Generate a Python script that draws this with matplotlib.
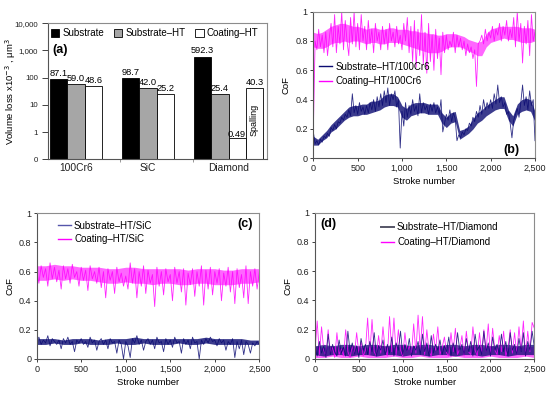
import numpy as np
import matplotlib
matplotlib.use("Agg")
import matplotlib.pyplot as plt
from matplotlib.ticker import FixedLocator, FixedFormatter
from matplotlib.patches import Patch

plt.rcParams["font.family"] = ["Liberation Sans", "DejaVu Sans"]

# ---- panel (a): volume loss ----
materials = ["100Cr6", "SiC", "Diamond"]
series_names = ["Substrate", "Substrate–HT", "Coating–HT"]
vol_substrate = [87.1, 98.7, 592.3]
vol_substrate_ht = [59.0, 42.0, 25.4]
vol_coating_ht = [48.6, 25.2, 0.49]
spalling_value = 40.3
vol_ticks = [0.1, 1, 10, 100, 1000, 10000]
vol_ticklabels = ["0", "1", "10", "100", "1,000", "10,000"]

# ---- panels (b)-(d): CoF vs stroke number ----
# raw traces (spikes)
strokes_b = np.arange(0, 2501, 20)
cof_coat_100cr6 = [
    0.18, 0.80, 0.74, 0.88, 0.76, 0.84, 0.72, 0.86, 0.70, 0.82,
    0.92, 0.76, 0.98, 0.72, 0.90, 0.78, 1.00, 0.74, 0.94, 0.80,
    0.70, 0.96, 0.78, 1.00, 0.76, 0.92, 0.74, 0.98, 0.80, 0.90,
    0.74, 0.94, 0.78, 0.88, 0.72, 0.92, 0.80, 0.86, 0.74, 0.90,
    0.78, 0.88, 0.74, 0.92, 0.80, 0.86, 0.76, 0.90, 0.78, 0.84,
    0.74, 0.92, 0.80, 0.96, 0.72, 0.90, 0.66, 0.94, 0.62, 0.88,
    0.70, 0.98, 0.64, 0.86, 0.58, 0.92, 0.66, 0.84, 0.60, 0.88,
    0.68, 0.82, 0.57, 0.86, 0.72, 0.84, 0.74, 0.80, 0.76, 0.86,
    0.72, 0.84, 0.76, 0.82, 0.74, 0.80, 0.70, 0.78, 0.72, 0.76,
    0.68, 0.74, 0.49, 0.78, 0.80, 0.84, 0.78, 0.88, 0.80, 0.86,
    0.82, 0.90, 0.80, 0.88, 0.84, 0.92, 0.80, 0.90, 0.84, 0.94,
    0.80, 0.88, 0.82, 0.96, 0.76, 1.00, 0.80, 0.92, 0.65, 0.90,
    0.78, 0.94, 0.70, 0.98, 0.80, 0.86]
cof_sub_100cr6 = [
    0.18, 0.10, 0.12, 0.09, 0.13, 0.11, 0.15, 0.14, 0.17, 0.15,
    0.21, 0.19, 0.23, 0.20, 0.25, 0.24, 0.28, 0.26, 0.30, 0.28,
    0.33, 0.29, 0.44, 0.31, 0.36, 0.30, 0.38, 0.32, 0.35, 0.30,
    0.36, 0.31, 0.38, 0.33, 0.40, 0.32, 0.42, 0.35, 0.44, 0.36,
    0.46, 0.38, 0.48, 0.36, 0.44, 0.40, 0.46, 0.35, 0.40, 0.07,
    0.32, 0.22, 0.38, 0.28, 0.36, 0.30, 0.40, 0.32, 0.36, 0.29,
    0.44, 0.31, 0.38, 0.33, 0.36, 0.30, 0.37, 0.32, 0.38, 0.31,
    0.35, 0.30, 0.40, 0.18, 0.24, 0.30, 0.26, 0.33, 0.25, 0.31,
    0.27, 0.12, 0.16, 0.14, 0.18, 0.16, 0.20, 0.19, 0.24, 0.22,
    0.28, 0.25, 0.32, 0.28, 0.36, 0.30, 0.40, 0.33, 0.38, 0.34,
    0.40, 0.34, 0.44, 0.37, 0.50, 0.38, 0.42, 0.35, 0.38, 0.30,
    0.32, 0.24, 0.14, 0.26, 0.30, 0.34, 0.28, 0.38, 0.50, 0.36,
    0.42, 0.33, 0.46, 0.36, 0.40, 0.12]

# dense core of each (b) trace, low / high edge every 50 strokes
strokes_b_band = np.arange(0, 2501, 50)
coat_100cr6_lo = [
    0.76, 0.75, 0.75, 0.76, 0.78, 0.79, 0.79, 0.80, 0.79, 0.80,
    0.80, 0.79, 0.78, 0.79, 0.79, 0.78, 0.78, 0.79, 0.79, 0.79,
    0.78, 0.77, 0.76, 0.75, 0.74, 0.73, 0.72, 0.72, 0.72, 0.73,
    0.75, 0.76, 0.76, 0.76, 0.75, 0.73, 0.72, 0.70, 0.70, 0.76,
    0.79, 0.80, 0.81, 0.82, 0.81, 0.81, 0.80, 0.79, 0.79, 0.79,
    0.80]
coat_100cr6_hi = [
    0.86, 0.85, 0.86, 0.88, 0.90, 0.91, 0.92, 0.92, 0.91, 0.90,
    0.90, 0.89, 0.88, 0.89, 0.89, 0.88, 0.88, 0.89, 0.89, 0.88,
    0.88, 0.88, 0.87, 0.87, 0.86, 0.86, 0.85, 0.85, 0.84, 0.84,
    0.85, 0.85, 0.85, 0.84, 0.83, 0.81, 0.80, 0.79, 0.80, 0.85,
    0.88, 0.89, 0.90, 0.90, 0.90, 0.90, 0.90, 0.89, 0.89, 0.89,
    0.88]
sub_100cr6_lo = [
    0.09, 0.09, 0.12, 0.14, 0.18, 0.20, 0.23, 0.26, 0.28, 0.29,
    0.29, 0.30, 0.30, 0.31, 0.32, 0.33, 0.35, 0.36, 0.36, 0.35,
    0.28, 0.26, 0.29, 0.30, 0.31, 0.31, 0.30, 0.30, 0.30, 0.24,
    0.21, 0.24, 0.25, 0.13, 0.15, 0.17, 0.20, 0.24, 0.26, 0.29,
    0.31, 0.33, 0.34, 0.34, 0.26, 0.22, 0.30, 0.32, 0.33, 0.32,
    0.25]
sub_100cr6_hi = [
    0.15, 0.13, 0.16, 0.19, 0.23, 0.26, 0.29, 0.32, 0.35, 0.36,
    0.36, 0.37, 0.37, 0.39, 0.39, 0.40, 0.43, 0.44, 0.44, 0.42,
    0.36, 0.34, 0.37, 0.38, 0.38, 0.38, 0.37, 0.37, 0.37, 0.31,
    0.28, 0.31, 0.32, 0.19, 0.20, 0.22, 0.27, 0.31, 0.33, 0.36,
    0.38, 0.40, 0.42, 0.42, 0.33, 0.29, 0.37, 0.40, 0.41, 0.40,
    0.32]

strokes_cd = np.arange(0, 2501, 25)
cof_coat_sic = [
    0.60, 0.52, 0.64, 0.56, 0.62, 0.50, 0.66, 0.55, 0.63, 0.53,
    0.61, 0.48, 0.64, 0.55, 0.62, 0.52, 0.65, 0.56, 0.60, 0.50,
    0.63, 0.54, 0.61, 0.47, 0.64, 0.55, 0.60, 0.52, 0.63, 0.49,
    0.60, 0.42, 0.62, 0.54, 0.60, 0.45, 0.63, 0.53, 0.59, 0.50,
    0.57, 0.48, 0.66, 0.52, 0.62, 0.42, 0.60, 0.50, 0.64, 0.45,
    0.61, 0.52, 0.58, 0.36, 0.63, 0.50, 0.60, 0.44, 0.62, 0.53,
    0.58, 0.40, 0.63, 0.52, 0.60, 0.46, 0.62, 0.37, 0.59, 0.51,
    0.62, 0.43, 0.60, 0.50, 0.64, 0.37, 0.61, 0.48, 0.63, 0.44,
    0.60, 0.52, 0.62, 0.40, 0.59, 0.50, 0.63, 0.46, 0.60, 0.38,
    0.62, 0.49, 0.58, 0.42, 0.64, 0.38, 0.60, 0.50, 0.62, 0.48,
    0.60]
cof_sub_sic = [
    0.12, 0.15, 0.10, 0.13, 0.11, 0.16, 0.09, 0.14, 0.12, 0.10,
    0.13, 0.07, 0.14, 0.11, 0.15, 0.10, 0.12, 0.05, 0.13, 0.11,
    0.14, 0.10, 0.12, 0.08, 0.15, 0.11, 0.13, 0.06, 0.12, 0.14,
    0.10, 0.13, 0.07, 0.14, 0.11, 0.12, 0.04, 0.13, 0.10, 0.00,
    0.12, 0.09, 0.01, 0.14, 0.11, 0.16, 0.10, 0.13, 0.06, 0.12,
    0.14, 0.10, 0.13, 0.07, 0.15, 0.11, 0.12, 0.05, 0.14, 0.10,
    0.13, 0.08, 0.15, 0.11, 0.12, 0.04, 0.14, 0.10, 0.13, 0.07,
    0.15, 0.11, 0.12, 0.00, 0.13, 0.10, 0.14, 0.11, 0.15, 0.12,
    0.13, 0.09, 0.14, 0.11, 0.13, 0.06, 0.12, 0.10, 0.14, 0.01,
    0.12, 0.07, 0.13, 0.03, 0.12, 0.10, 0.04, 0.11, 0.09, 0.12,
    0.10]
cof_coat_diamond = [
    0.05, 0.26, 0.03, 0.22, 0.06, 0.02, 0.20, 0.04, 0.08, 0.01,
    0.18, 0.03, 0.07, 0.02, 0.20, 0.05, 0.01, 0.09, 0.03, 0.18,
    0.04, 0.12, 0.02, 0.06, 0.28, 0.03, 0.27, 0.05, 0.02, 0.16,
    0.04, 0.22, 0.06, 0.02, 0.29, 0.05, 0.28, 0.03, 0.20, 0.06,
    0.02, 0.18, 0.05, 0.09, 0.03, 0.24, 0.04, 0.30, 0.06, 0.29,
    0.03, 0.20, 0.05, 0.02, 0.17, 0.06, 0.22, 0.03, 0.08, 0.15,
    0.04, 0.02, 0.18, 0.05, 0.21, 0.03, 0.07, 0.16, 0.02, 0.19,
    0.05, 0.03, 0.22, 0.06, 0.02, 0.18, 0.04, 0.20, 0.05, 0.24,
    0.02, 0.21, 0.06, 0.03, 0.16, 0.05, 0.19, 0.02, 0.07, 0.20,
    0.04, 0.18, 0.03, 0.22, 0.06, 0.26, 0.02, 0.19, 0.05, 0.25,
    0.21]
cof_sub_diamond = [
    0.08, 0.02, 0.12, 0.04, 0.09, 0.01, 0.17, 0.03, 0.10, 0.05,
    0.02, 0.13, 0.04, 0.08, 0.02, 0.19, 0.05, 0.11, 0.03, 0.09,
    0.01, 0.14, 0.06, 0.10, 0.03, 0.12, 0.05, 0.18, 0.02, 0.09,
    0.06, 0.13, 0.03, 0.10, 0.04, 0.15, 0.02, 0.11, 0.06, 0.19,
    0.03, 0.10, 0.05, 0.14, 0.02, 0.09, 0.06, 0.12, 0.03, 0.17,
    0.05, 0.11, 0.02, 0.16, 0.04, 0.10, 0.06, 0.13, 0.03, 0.09,
    0.05, 0.15, 0.02, 0.11, 0.04, 0.18, 0.06, 0.10, 0.03, 0.14,
    0.05, 0.12, 0.02, 0.17, 0.06, 0.09, 0.03, 0.19, 0.05, 0.11,
    0.02, 0.15, 0.06, 0.10, 0.03, 0.17, 0.05, 0.12, 0.02, 0.18,
    0.06, 0.10, 0.03, 0.14, 0.05, 0.18, 0.02, 0.12, 0.06, 0.19,
    0.08]

# dense cores for (c) and (d), every 100 strokes
strokes_cd_band = np.arange(0, 2501, 100)
coat_sic_lo = [0.54, 0.54, 0.55, 0.54, 0.55, 0.54, 0.54, 0.53, 0.52, 0.52, 0.53, 0.52, 0.52,
               0.51, 0.52, 0.52, 0.51, 0.51, 0.52, 0.52, 0.51, 0.51, 0.51, 0.52, 0.52, 0.53]
coat_sic_hi = [0.64, 0.64, 0.65, 0.64, 0.64, 0.63, 0.63, 0.63, 0.62, 0.62, 0.63, 0.63, 0.62,
               0.62, 0.62, 0.62, 0.62, 0.61, 0.62, 0.62, 0.62, 0.61, 0.61, 0.62, 0.62, 0.62]
sub_sic_lo = [0.10, 0.10, 0.11, 0.10, 0.10, 0.11, 0.10, 0.10, 0.10, 0.11, 0.10, 0.10, 0.11,
              0.10, 0.10, 0.10, 0.11, 0.10, 0.10, 0.11, 0.10, 0.10, 0.10, 0.10, 0.10, 0.10]
sub_sic_hi = [0.14, 0.14, 0.14, 0.13, 0.14, 0.14, 0.14, 0.13, 0.14, 0.14, 0.14, 0.15, 0.14,
              0.14, 0.14, 0.14, 0.14, 0.14, 0.14, 0.15, 0.14, 0.14, 0.14, 0.14, 0.13, 0.13]
coat_diamond_lo = [0.01, 0.01, 0.02, 0.01, 0.01, 0.02, 0.01, 0.01, 0.01, 0.02, 0.01, 0.01, 0.02,
                   0.01, 0.01, 0.01, 0.02, 0.01, 0.01, 0.01, 0.02, 0.01, 0.01, 0.01, 0.02, 0.01]
coat_diamond_hi = [0.09, 0.08, 0.09, 0.08, 0.09, 0.08, 0.08, 0.09, 0.09, 0.08, 0.09, 0.08, 0.09,
                   0.08, 0.08, 0.09, 0.08, 0.08, 0.09, 0.08, 0.09, 0.08, 0.08, 0.09, 0.08, 0.09]
sub_diamond_lo = [0.03, 0.02, 0.03, 0.03, 0.02, 0.03, 0.03, 0.02, 0.03, 0.03, 0.02, 0.03, 0.03,
                  0.02, 0.03, 0.03, 0.02, 0.03, 0.03, 0.02, 0.03, 0.03, 0.02, 0.03, 0.03, 0.03]
sub_diamond_hi = [0.09, 0.10, 0.09, 0.10, 0.10, 0.09, 0.10, 0.10, 0.09, 0.10, 0.10, 0.09, 0.10,
                  0.10, 0.09, 0.10, 0.10, 0.09, 0.10, 0.10, 0.09, 0.10, 0.10, 0.09, 0.10, 0.10]

stroke_ticks = [0, 500, 1000, 1500, 2000, 2500]
stroke_ticklabels = ["0", "500", "1,000", "1,500", "2,000", "2,500"]
cof_ticks = [0, 0.2, 0.4, 0.6, 0.8, 1.0]
cof_ticklabels = ["0", "0.2", "0.4", "0.6", "0.8", "1"]

NAVY = "#0b0b72"
MAGENTA = "#ff00ff"
SPINE = "#8c8c8c"

fig = plt.figure(figsize=(5.5, 3.98), dpi=100)


def style_axes(ax, tick_fs):
    for s in ax.spines.values():
        s.set_color(SPINE)
        s.set_linewidth(0.8)
    ax.spines["left"].set_color("#555555")
    ax.spines["bottom"].set_color("#555555")
    ax.tick_params(direction="out", length=2.5, width=0.6, labelsize=tick_fs,
                   colors="#222222", pad=1.5)


# ---------------- (a) ----------------
axa = fig.add_axes([0.0878, 0.5997, 0.397, 0.3418])
group_start = [0.1, 4.25, 8.4]
fills = ["black", "#a6a6a6", "white"]
vals = [vol_substrate, vol_substrate_ht, vol_coating_ht]
for g in range(3):
    for i in range(3):
        x = group_start[g] + i + 0.5
        v = vals[i][g]
        axa.bar(x, v, width=1.0, bottom=0.1, color=fills[i], edgecolor="black",
                linewidth=0.6, zorder=2)
        lab = f"{v:.2f}" if v < 1 else f"{v:.1f}"
        axa.text(x, v * 1.12, lab, ha="center", va="bottom", fontsize=6.7)
# spalling bar
xs = group_start[2] + 3.5
axa.bar(xs, spalling_value, width=1.0, bottom=0.1, color="white",
        edgecolor="black", linewidth=0.6, zorder=2)
axa.text(xs, spalling_value * 1.12, f"{spalling_value:.1f}", ha="center",
         va="bottom", fontsize=6.7)
axa.text(xs, 2.8, "Spalling", rotation=90, ha="center", va="center",
         fontsize=6.5)

axa.set_yscale("log")
axa.set_ylim(0.1, 10000)
axa.set_xlim(0, 12.6)
axa.yaxis.set_major_locator(FixedLocator(vol_ticks))
axa.yaxis.set_major_formatter(FixedFormatter(vol_ticklabels))
axa.yaxis.set_minor_locator(FixedLocator([]))
group_centers = [group_start[0] + 1.5, group_start[1] + 1.5, group_start[2] + 2.0]
axa.set_xticks(group_centers)
axa.set_xticklabels(materials)
axa.set_xticks([4.15, 8.35], minor=True)
style_axes(axa, 5.7)
axa.tick_params(axis="y", length=4, pad=3.5)
axa.tick_params(axis="x", which="major", length=0, pad=3, labelsize=7.4)
axa.tick_params(axis="x", which="minor", length=2.5, width=0.6, colors="#888888")
axa.set_ylabel("Volume loss x10$^{-3}$ , μm$^{3}$", fontsize=6.8)
axa.yaxis.set_label_coords(-0.137, 0.5)
handles = [Patch(facecolor=c, edgecolor="black", linewidth=0.6) for c in fills]
axa.legend(handles, series_names, loc="upper left", bbox_to_anchor=(-0.025, 1.02),
           ncol=3, frameon=False, fontsize=7, handlelength=0.9, handleheight=0.9,
           handletextpad=0.3, columnspacing=1.0, borderpad=0.3)
axa.text(0.054, 0.80, "(a)", transform=axa.transAxes, fontsize=9,
         fontweight="bold", ha="center", va="center")


def cof_axes(rect):
    ax = fig.add_axes(rect)
    ax.set_xlim(0, 2500)
    ax.set_ylim(0, 1)
    ax.set_xticks(stroke_ticks)
    ax.set_xticklabels(stroke_ticklabels)
    ax.set_yticks(cof_ticks)
    ax.set_yticklabels(cof_ticklabels)
    style_axes(ax, 6.5)
    ax.set_xlabel("Stroke number", fontsize=6.8, labelpad=3)
    ax.set_ylabel("CoF", fontsize=6.8, labelpad=3)
    return ax


def trace(ax, xs_band, lo, hi, xs_raw, raw, color, band_alpha=0.6):
    ax.fill_between(xs_band, lo, hi, color=color, lw=0, alpha=band_alpha)
    ax.plot(xs_raw, raw, color=color, lw=0.6, alpha=0.85)


# ---------------- (b) ----------------
axb = cof_axes([0.5697, 0.6022, 0.403, 0.3685])
trace(axb, strokes_b_band, coat_100cr6_lo, coat_100cr6_hi, strokes_b, cof_coat_100cr6, MAGENTA)
trace(axb, strokes_b_band, sub_100cr6_lo, sub_100cr6_hi, strokes_b, cof_sub_100cr6, NAVY,
      band_alpha=0.8)
lb = [plt.Line2D([], [], color=NAVY, lw=1), plt.Line2D([], [], color=MAGENTA, lw=1)]
axb.legend(lb, ["Substrate–HT/100Cr6", "Coating–HT/100Cr6"], loc="center left",
           bbox_to_anchor=(-0.005, 0.575), frameon=False, fontsize=7,
           handlelength=1.35, handletextpad=0.3, labelspacing=0.45, borderpad=0.2)
axb.text(0.895, 0.06, "(b)", transform=axb.transAxes, fontsize=9,
         fontweight="bold", ha="center", va="center")

# ---------------- (c) ----------------
axc = cof_axes([0.0667, 0.098, 0.4048, 0.366])
trace(axc, strokes_cd_band, coat_sic_lo, coat_sic_hi, strokes_cd, cof_coat_sic, MAGENTA)
trace(axc, strokes_cd_band, sub_sic_lo, sub_sic_hi, strokes_cd, cof_sub_sic, NAVY,
      band_alpha=0.8)
lc = [plt.Line2D([], [], color="#5555aa", lw=1), plt.Line2D([], [], color=MAGENTA, lw=1)]
axc.legend(lc, ["Substrate–HT/SiC", "Coating–HT/SiC"], loc="center left",
           bbox_to_anchor=(0.065, 0.868), frameon=False, fontsize=7,
           handlelength=1.35, handletextpad=0.3, labelspacing=0.35, borderpad=0.2)
axc.text(0.936, 0.925, "(c)", transform=axc.transAxes, fontsize=9,
         fontweight="bold", ha="center", va="center")

# ---------------- (d) ----------------
axd = cof_axes([0.5727, 0.098, 0.3988, 0.3676])
trace(axd, strokes_cd_band, coat_diamond_lo, coat_diamond_hi, strokes_cd, cof_coat_diamond, MAGENTA)
trace(axd, strokes_cd_band, sub_diamond_lo, sub_diamond_hi, strokes_cd, cof_sub_diamond, NAVY,
      band_alpha=0.75)
ld = [plt.Line2D([], [], color="#555566", lw=1.4), plt.Line2D([], [], color=MAGENTA, lw=1)]
axd.legend(ld, ["Substrate–HT/Diamond", "Coating–HT/Diamond"], loc="center left",
           bbox_to_anchor=(0.27, 0.85), frameon=False, fontsize=7,
           handlelength=1.35, handletextpad=0.3, labelspacing=0.55, borderpad=0.2)
axd.text(0.06, 0.922, "(d)", transform=axd.transAxes, fontsize=9,
         fontweight="bold", ha="center", va="center")

fig.savefig("out.png", dpi=100)
